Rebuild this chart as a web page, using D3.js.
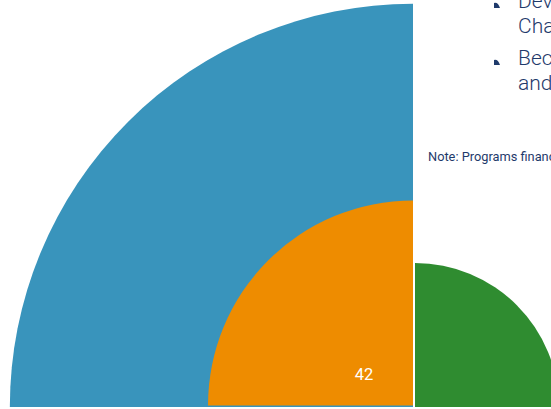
<!DOCTYPE html>
<html>
<head>
<meta charset="utf-8">
<script src="https://cdn.jsdelivr.net/npm/d3@7"></script>
<style>
  html, body { margin: 0; padding: 0; background: #fff; overflow: hidden; }
  svg { display: block; }
</style>
</head>
<body>
<div id="chart"></div>
<script>
// slices of the polar area chart (only the visible part)
const categories = ['A', 'B', 'C'];
const values = [82.6, 42, 29.5];
const colors = ['#3994bc', '#ee8c00', '#2f8c30'];
const quadrants = [0, 0, 1]; // 0 = upper-left, 1 = upper-right
const labels = ['', '42', ''];

const bulletLines = [['Dev', 'Cha'], ['Bec', 'and']];
const noteText = 'Note: Programs financed';

const width = 551, height = 409;

const svg = d3.select('#chart')
    .append('svg')
    .attr('width', width)
    .attr('height', height);

const r = d3.scaleLinear().domain([0, 42]).range([0, 205]);

const arc = d3.arc().innerRadius(0);

const centers = [[413, 407], [413, 405.5], [415, 407]];

svg.append('g')
    .selectAll('path')
    .data(categories.map((c, i) => ({ c, v: values[i], q: quadrants[i], i })))
    .join('path')
    .attr('transform', d => `translate(${centers[d.i][0]},${centers[d.i][1]})`)
    .attr('fill', d => colors[d.i])
    .attr('d', d => arc({
        outerRadius: r(d.v),
        startAngle: d.q === 0 ? -Math.PI / 2 : 0,
        endAngle: d.q === 0 ? 0 : Math.PI / 2
    }));

svg.append('g')
    .selectAll('text')
    .data(categories.map((c, i) => ({ t: labels[i], i })).filter(d => d.t))
    .join('text')
    .attr('x', d => centers[d.i][0] - 49)
    .attr('y', d => centers[d.i][1] - 26)
    .attr('text-anchor', 'middle')
    .attr('fill', '#fff')
    .attr('font-family', 'Roboto, sans-serif')
    .attr('font-size', '16.5px')
    .text(d => d.t);

// text from the surrounding page
const navy = '#1f3a6b';
const bullets = svg.append('g');
bulletLines.forEach((lines, p) => {
    const y0 = 8 + p * 57;
    bullets.append('path')
        .attr('transform', `translate(494,${y0 - 6})`)
        .attr('fill', navy)
        .attr('d', 'M0,6 L0,1 Q4,0 6,6 Z');
    lines.forEach((t, k) => {
        bullets.append('text')
            .attr('x', 518)
            .attr('y', y0 + k * 25)
            .attr('fill', navy)
            .attr('font-family', 'Roboto, sans-serif')
            .attr('font-weight', 300)
            .attr('font-size', '21px')
            .text(t + 'elopment ' + (k ? 'text' : ''));
    });
});

svg.append('text')
    .attr('x', 428)
    .attr('y', 161)
    .attr('fill', navy)
    .attr('font-family', 'Roboto, sans-serif')
    .attr('font-size', '12.8px')
    .text(noteText);
</script>
</body>
</html>
